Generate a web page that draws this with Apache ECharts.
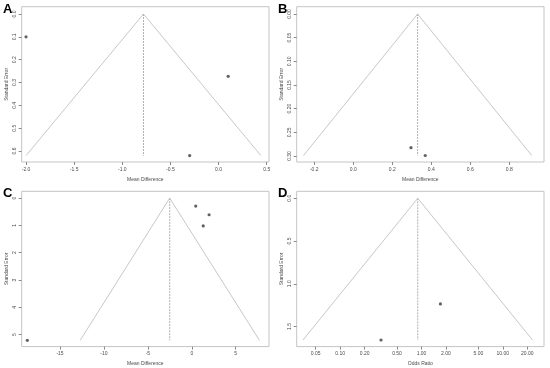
<!DOCTYPE html>
<html>
<head>
<meta charset="utf-8">
<script src="https://cdn.jsdelivr.net/npm/echarts@6/dist/echarts.min.js"></script>
<style>html,body{margin:0;padding:0;background:#fff}#c{width:550px;height:368px}</style>
</head>
<body>
<div id="c"></div>
<script>
// ---- Panel A ----
const aStudyX = [-2.0, 0.10, -0.30];
const aStudySE = [0.10, 0.273, 0.62];
const aFunnelX = [-2.0, -0.78, 0.44];
const aFunnelSE = [0.62, 0, 0.62];
const aXTicks = [-2.0, -1.5, -1.0, -0.5, 0.0, 0.5];
const aXLabels = ["-2.0", "-1.5", "-1.0", "-0.5", "0.0", "0.5"];
const aYTicks = [0.0, 0.1, 0.2, 0.3, 0.4, 0.5, 0.6];
const aYLabels = ["0.0", "0.1", "0.2", "0.3", "0.4", "0.5", "0.6"];
// ---- Panel B ----
const bStudyX = [0.296, 0.369];
const bStudySE = [0.2825, 0.299];
const bFunnelX = [-0.255, 0.33, 0.915];
const bFunnelSE = [0.299, 0, 0.299];
const bXTicks = [-0.2, 0.0, 0.2, 0.4, 0.6, 0.8];
const bXLabels = ["-0.2", "0.0", "0.2", "0.4", "0.6", "0.8"];
const bYTicks = [0.00, 0.05, 0.10, 0.15, 0.20, 0.25, 0.30];
const bYLabels = ["0.00", "0.05", "0.10", "0.15", "0.20", "0.25", "0.30"];
// ---- Panel C ----
const cStudyX = [-18.72, 0.45, 1.97, 1.30];
const cStudySE = [5.21, 0.29, 0.61, 1.02];
const cFunnelX = [-12.7, -2.51, 7.7];
const cFunnelSE = [5.21, 0, 5.21];
const cXTicks = [-15, -10, -5, 0, 5];
const cXLabels = ["-15", "-10", "-5", "0", "5"];
const cYTicks = [0, 1, 2, 3, 4, 5];
const cYLabels = ["0", "1", "2", "3", "4", "5"];
// ---- Panel D ----
const dStudyOR = [0.318, 1.71];
const dStudySE = [1.658, 1.236];
const dFunnelOR = [0.0349, 0.90, 23.2];
const dFunnelSE = [1.658, 0, 1.658];
const dXTicks = [0.05, 0.1, 0.2, 0.5, 1, 2, 5, 10, 20];
const dXLabels = ["0.05", "0.10", "0.20", "0.50", "1.00", "2.00", "5.00", "10.00", "20.00"];
const dYTicks = [0.0, 0.5, 1.0, 1.5];
const dYLabels = ["0.0", "0.5", "1.0", "1.5"];

const panelLetters = ["A", "B", "C", "D"];
const xNames = ["Mean Difference", "Mean Difference", "Mean Difference", "Odds Ratio"];
const yName = "Standard Error";

const FONT = "Liberation Sans, Arial, sans-serif";
const LABEL_COLOR = "#4a4a4a";
const BOX = "#c4c4c4";

const panels = [
  {sx: aStudyX, se: aStudySE, fx: aFunnelX, fse: aFunnelSE, xt: aXTicks, xl: aXLabels, yt: aYTicks, yl: aYLabels,
   xmin: -2.045, xmax: 0.524, ymin: -0.032, ymax: 0.648, type: 'value'},
  {sx: bStudyX, se: bStudySE, fx: bFunnelX, fse: bFunnelSE, xt: bXTicks, xl: bXLabels, yt: bYTicks, yl: bYLabels,
   xmin: -0.290, xmax: 0.978, ymin: -0.0154, ymax: 0.3127, type: 'value'},
  {sx: cStudyX, se: cStudySE, fx: cFunnelX, fse: cFunnelSE, xt: cXTicks, xl: cXLabels, yt: cYTicks, yl: cYLabels,
   xmin: -19.36, xmax: 8.79, ymin: -0.25, ymax: 5.44, type: 'value'},
  {sx: dStudyOR, se: dStudySE, fx: dFunnelOR, fse: dFunnelSE, xt: dXTicks, xl: dXLabels, yt: dYTicks, yl: dYLabels,
   xmin: 0.0292, xmax: 32.1, ymin: -0.082, ymax: 1.735, type: 'log'}
];

const gridPos = [[21.7, 6.7], [296.7, 6.7], [21.7, 191.3], [296.7, 191.3]];
const letterPos = [[3, 3], [278, 3], [3, 187], [278, 187]];

function fmt(ticks, labels) {
  return function (v) {
    for (let i = 0; i < ticks.length; i++) {
      if (Math.abs(ticks[i] - v) < 1e-7 * Math.max(1, Math.abs(v))) return labels[i];
    }
    return '';
  };
}

const grid = [], xAxis = [], yAxis = [], series = [], title = [];
panels.forEach((p, i) => {
  grid.push({left: gridPos[i][0], top: gridPos[i][1], width: 247.3, height: 155.3,
    show: true, borderColor: BOX, borderWidth: 1, backgroundColor: 'transparent'});
  const xa = {
    gridIndex: i, type: p.type, min: p.xmin, max: p.xmax, position: 'bottom',
    axisLine: {show: false, onZero: false}, splitLine: {show: false}, minorTick: {show: false},
    axisTick: {show: true, length: 3, lineStyle: {color: '#8a8a8a', width: 1}, customValues: p.xt},
    axisLabel: {customValues: p.xt, formatter: fmt(p.xt, p.xl), fontSize: 5, color: LABEL_COLOR,
      fontFamily: FONT, margin: 5, hideOverlap: false},
    name: xNames[i], nameLocation: 'middle', nameGap: 15,
    nameTextStyle: {fontSize: 5, color: LABEL_COLOR, fontFamily: FONT}
  };
  if (p.type === 'log') xa.logBase = 10;
  xAxis.push(xa);
  yAxis.push({
    gridIndex: i, type: 'value', inverse: true, min: p.ymin, max: p.ymax, position: 'left',
    axisLine: {show: false, onZero: false}, splitLine: {show: false},
    axisTick: {show: true, length: 3, lineStyle: {color: '#8a8a8a', width: 1}, customValues: p.yt},
    axisLabel: {customValues: p.yt, formatter: fmt(p.yt, p.yl), fontSize: 5, color: LABEL_COLOR,
      fontFamily: FONT, rotate: 90, margin: 5, hideOverlap: false},
    name: yName, nameLocation: 'middle', nameGap: 13, nameRotate: 90,
    nameTextStyle: {fontSize: 5, color: LABEL_COLOR, fontFamily: FONT}
  });
  // funnel sides
  series.push({
    type: 'line', xAxisIndex: i, yAxisIndex: i, symbol: 'none', silent: true,
    data: p.fx.map((x, k) => [x, p.fse[k]]),
    lineStyle: {color: '#c8c8c8', width: 1}, z: 1
  });
  // centre line
  series.push({
    type: 'line', xAxisIndex: i, yAxisIndex: i, symbol: 'none', silent: true,
    data: [[p.fx[1], p.fse[1]], [p.fx[1], p.fse[0]]],
    lineStyle: {color: '#b0b0b0', width: 1, type: [2, 1]}, z: 1
  });
  // studies
  series.push({
    type: 'scatter', xAxisIndex: i, yAxisIndex: i, symbol: 'circle', symbolSize: 3.2,
    data: p.sx.map((x, k) => [x, p.se[k]]),
    itemStyle: {color: '#3a3a3a'}, z: 3
  });
  title.push({text: panelLetters[i], left: letterPos[i][0], top: letterPos[i][1], padding: 0,
    textStyle: {fontSize: 13, fontWeight: 'bold', color: '#000', fontFamily: FONT}});
});

const chart = echarts.init(document.getElementById('c'), null, {renderer: 'canvas'});
chart.setOption({animation: false, backgroundColor: '#fff', title, grid, xAxis, yAxis, series});
</script>
</body>
</html>
